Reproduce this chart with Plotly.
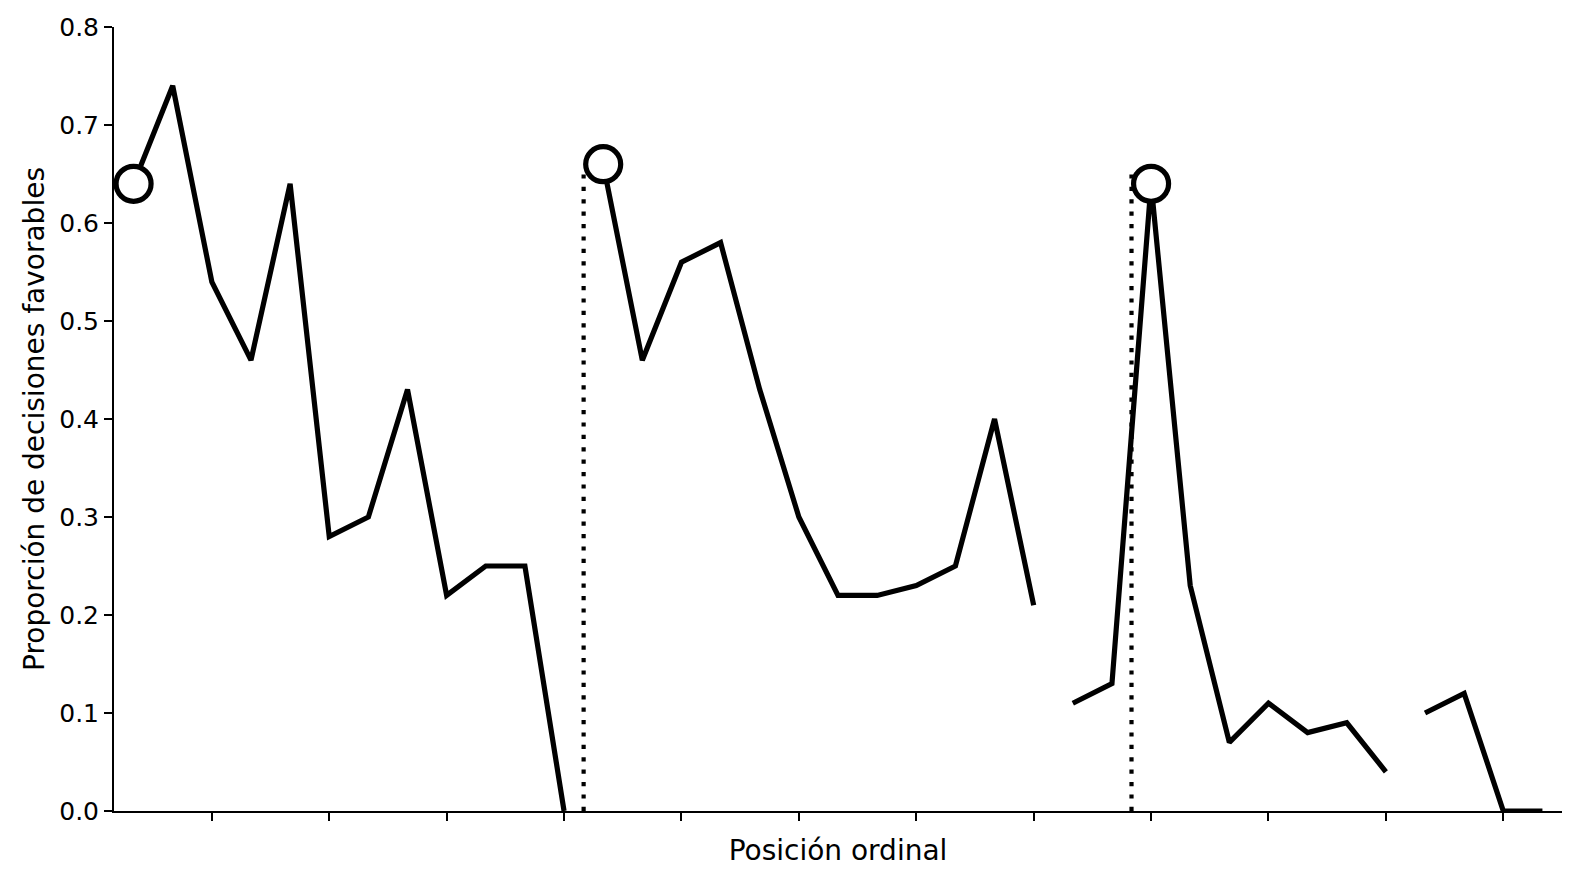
import plotly.graph_objects as go

# Posición ordinal de cada caso y proporción de decisiones favorables
posiciones = list(range(1, 38))
proporcion = [0.64, 0.74, 0.54, 0.46, 0.64, 0.28, 0.30, 0.43, 0.22, 0.25, 0.25, 0.00,
              0.66, 0.46, 0.56, 0.58, 0.43, 0.30, 0.22, 0.22, 0.23, 0.25, 0.40, 0.21,
              0.11, 0.13, 0.64, 0.23, 0.07, 0.11, 0.08, 0.09, 0.04,
              0.10, 0.12, 0.00, 0.00]
# Tramos continuos de la línea (posición inicial, posición final)
tramos = [(1, 12), (13, 24), (25, 33), (34, 37)]
# Inicio de cada sesión (círculos) y pausas para comer (líneas punteadas)
inicios_sesion = [1, 13, 27]
pausas = [12.5, 26.5]
altura_pausa = [0.65, 0.65]
ticks_x = list(range(3, 37, 3))
ticks_y = [0.0, 0.1, 0.2, 0.3, 0.4, 0.5, 0.6, 0.7, 0.8]

FONT = "DejaVu Sans"
fig = go.Figure()

for a, b in tramos:
    xs = [p for p in posiciones if a <= p <= b]
    ys = [proporcion[p - 1] for p in xs]
    fig.add_trace(go.Scatter(x=xs, y=ys, mode="lines",
                             line=dict(color="black", width=5.2),
                             showlegend=False, hoverinfo="skip"))

for xp, h in zip(pausas, altura_pausa):
    fig.add_trace(go.Scatter(x=[xp, xp], y=[0, h], mode="lines",
                             line=dict(color="black", width=4.2, dash="4.2px,8.2px"),
                             showlegend=False, hoverinfo="skip"))

fig.add_trace(go.Scatter(x=inicios_sesion,
                         y=[proporcion[p - 1] for p in inicios_sesion],
                         mode="markers",
                         marker=dict(size=35, color="white",
                                     line=dict(color="black", width=5.2)),
                         showlegend=False, hoverinfo="skip", cliponaxis=False))

fig.update_layout(
    width=1580, height=883,
    margin=dict(l=114, r=18, t=27, b=72),
    paper_bgcolor="white", plot_bgcolor="white",
    font=dict(family=FONT, size=25, color="black"),
    xaxis=dict(range=[0.5, 37.5], tickvals=ticks_x, showticklabels=False,
               ticks="outside", ticklen=8, tickwidth=2, tickcolor="black",
               showline=True, linewidth=2, linecolor="black",
               showgrid=False, zeroline=False,
               title=dict(text="Posición ordinal", standoff=20,
                          font=dict(family=FONT, size=28))),
    yaxis=dict(range=[0, 0.8], tickvals=ticks_y, tickformat=".1f",
               ticks="outside", ticklen=8, tickwidth=2, tickcolor="black",
               showline=True, linewidth=2, linecolor="black",
               showgrid=False, zeroline=False,
               title=dict(text="Proporción de decisiones favorables", standoff=6,
                          font=dict(family=FONT, size=28))),
)

fig.write_html("out.html", config={"displayModeBar": False},
               post_script="document.body.style.margin='0';document.body.style.overflow='hidden';")
